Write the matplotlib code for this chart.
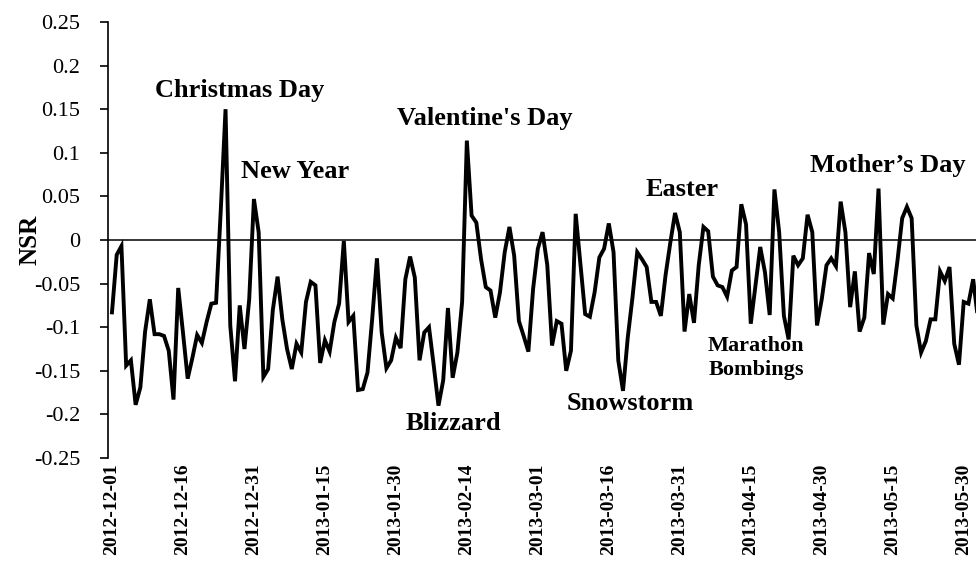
import matplotlib
matplotlib.use("Agg")
import matplotlib.pyplot as plt
from matplotlib import rcParams

rcParams['font.family'] = 'Liberation Serif'

# daily NSR values, 2012-12-01 onwards (one per day)
nsr = [
    -0.083, -0.017, -0.007, -0.144, -0.138, -0.189, -0.169, -0.105, -0.068, -0.108,
    -0.108, -0.110, -0.127, -0.183, -0.055, -0.106, -0.159, -0.135, -0.109, -0.118,
    -0.094, -0.073, -0.072, 0.035, 0.150, -0.098, -0.162, -0.075, -0.125, -0.068,
    0.047, 0.009, -0.157, -0.148, -0.080, -0.042, -0.091, -0.125, -0.148, -0.119,
    -0.129, -0.071, -0.048, -0.052, -0.141, -0.115, -0.128, -0.094, -0.073, -0.001,
    -0.094, -0.087, -0.172, -0.171, -0.152, -0.090, -0.021, -0.106, -0.147, -0.138,
    -0.112, -0.124, -0.045, -0.019, -0.043, -0.138, -0.106, -0.100, -0.144, -0.190,
    -0.161, -0.078, -0.158, -0.129, -0.071, 0.114, 0.028, 0.020, -0.022, -0.054,
    -0.058, -0.089, -0.060, -0.014, 0.015, -0.018, -0.093, -0.110, -0.128, -0.056,
    -0.010, 0.009, -0.029, -0.121, -0.093, -0.096, -0.150, -0.127, 0.030, -0.028,
    -0.085, -0.088, -0.060, -0.020, -0.010, 0.019, -0.014, -0.138, -0.173, -0.112,
    -0.066, -0.014, -0.022, -0.031, -0.071, -0.071, -0.087, -0.040, -0.003, 0.031,
    0.009, -0.105, -0.062, -0.095, -0.029, 0.015, 0.010, -0.042, -0.052, -0.054,
    -0.065, -0.035, -0.031, 0.041, 0.018, -0.096, -0.052, -0.008, -0.037, -0.086,
    0.058, 0.009, -0.087, -0.114, -0.018, -0.029, -0.021, 0.029, 0.009, -0.098,
    -0.068, -0.029, -0.021, -0.030, 0.044, 0.009, -0.077, -0.036, -0.105, -0.089,
    -0.015, -0.039, 0.059, -0.097, -0.062, -0.067, -0.024, 0.025, 0.038, 0.025,
    -0.098, -0.129, -0.116, -0.091, -0.091, -0.036, -0.047, -0.031, -0.119, -0.143,
    -0.071, -0.073, -0.045, -0.090,
]
days = list(range(len(nsr)))

tick_days = [0, 15, 30, 45, 60, 75, 90, 105, 120, 135, 150, 165, 180]
tick_labels = ["2012-12-01", "2012-12-16", "2012-12-31", "2013-01-15", "2013-01-30",
               "2013-02-14", "2013-03-01", "2013-03-16", "2013-03-31", "2013-04-15",
               "2013-04-30", "2013-05-15", "2013-05-30"]

y_ticks = [0.25, 0.2, 0.15, 0.1, 0.05, 0, -0.05, -0.1, -0.15, -0.2, -0.25]
y_labels = ["0.25", "0.2", "0.15", "0.1", "0.05", "0", "-0.05", "-0.1", "-0.15", "-0.2", "-0.25"]

events = ["Christmas Day", "New Year", "Valentine's Day", "Blizzard", "Snowstorm",
          "Easter", "Marathon\nBombings", "Mother\u2019s Day"]
event_x = [27.0, 38.8, 78.7, 72.2, 109.5, 120.5, 136.1, 163.9]
event_y = [0.171, 0.079, 0.139, -0.210, -0.188, 0.058, -0.135, 0.085]
event_size = [19, 19, 19, 19, 19, 19, 16, 19]

fig = plt.figure(figsize=(9.76, 5.61), dpi=100)
ax = fig.add_axes([108 / 976, 103 / 561, 868 / 976, 436 / 561])

ax.plot(days, nsr, color="black", linewidth=2.8, solid_joinstyle="miter")
ax.axhline(0, color="black", linewidth=1.1)

ax.set_xlim(-0.84, 182.6)
ax.set_ylim(-0.25, 0.25)

for side in ["top", "right", "bottom"]:
    ax.spines[side].set_visible(False)
ax.spines["left"].set_linewidth(1.2)

ax.set_yticks(y_ticks)
ax.set_yticklabels(y_labels, fontsize=16)
ax.tick_params(axis="y", direction="out", length=6, width=1.2, pad=14)

ax.set_xticks(tick_days)
ax.set_xticklabels(tick_labels, rotation=90, fontsize=14, fontweight="bold")
ax.tick_params(axis="x", length=0, pad=4)

ax.set_ylabel("NSR", fontsize=18, fontweight="bold")
ax.yaxis.set_label_coords(-0.077, 0.5)

for name, x, y, s in zip(events, event_x, event_y, event_size):
    ax.text(x, y, name, fontsize=s, fontweight="bold", ha="center", va="center",
            multialignment="center", linespacing=1.25)

fig.savefig("out.png", dpi=100)
